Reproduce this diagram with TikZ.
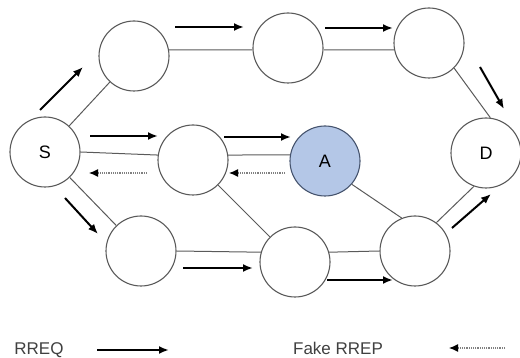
\documentclass[tikz,border=0pt]{standalone}
\usepackage{fontspec}
\setmainfont{Liberation Sans}
\usetikzlibrary{arrows.meta}

\definecolor{malblue}{RGB}{180,199,231}
\definecolor{maledge}{RGB}{70,84,110}
\definecolor{linkgray}{RGB}{90,90,90}

\begin{document}
\begin{tikzpicture}
    [
    x=1pt, y=-1pt,
    point/.style={circle,draw=linkgray,line width=1.1pt,inner sep=0pt,minimum size=70pt,
      font=\fontsize{18}{20}\selectfont},
    mal/.style={fill=malblue,draw=maledge},
    link/.style={draw=linkgray,line width=1pt},
    rreq/.style={line width=2pt,-{Latex[length=10pt,width=8pt]}},
    rrep/.style={gray,densely dotted,line width=1.2pt,-{Latex[length=9pt,width=8pt,color=black]}},
    legend/.style={text=black!75,anchor=base,inner sep=0pt,font=\fontsize{17}{20}\selectfont},
    ]
    \useasboundingbox (0,0) rectangle (520,358);

    % nodes
    \node (s) at (45,152) [point] {S};
    \node (1) at (134,56) [point] {};
    \node (2) at (288,48) [point] {};
    \node (3) at (429,43) [point] {};
    \node (d) at (486,153) [point] {D};
    \node (4) at (193,160) [point] {};
    \node (a) at (325,161) [point, mal] {A};
    \node (5) at (141,251) [point] {};
    \node (6) at (295,262) [point] {};
    \node (7) at (415,251) [point] {};

    % links
    \draw [link] (s) to (1);
    \draw [link] (1.10) to (2.183);
    \draw [link] (2.-3) to (3.191);
    \draw [link] (3.-45) to (d.83);
    \draw [link] (s.east) to (4.172);
    \draw [link] (4.8) to (a.170);
    \draw [link] (s) to (5);
    \draw [link] (4) to (6);
    \draw [link] (5.east) to (6.164);
    \draw [link] (6.16) to (7.west);
    \draw [link] (a.-41) to (7.112);
    \draw [link] (7.53) to (d.250);

    % RREQ flow
    \coordinate (q1a) at (40,110);  \coordinate (q1b) at (83,67);
    \coordinate (q2a) at (175,27);  \coordinate (q2b) at (244,27);
    \coordinate (q3a) at (325,28);  \coordinate (q3b) at (393,28);
    \coordinate (q4a) at (480,67);  \coordinate (q4b) at (504,109);
    \coordinate (q5a) at (90,136);  \coordinate (q5b) at (158,136);
    \coordinate (q6a) at (224,137); \coordinate (q6b) at (291,137);
    \coordinate (q7a) at (65,198);  \coordinate (q7b) at (98,234);
    \coordinate (q8a) at (183,268); \coordinate (q8b) at (253,268);
    \coordinate (q9a) at (327,280); \coordinate (q9b) at (393,280);
    \coordinate (q10a) at (452,228); \coordinate (q10b) at (491,194);
    \foreach \i in {1,...,10}
      \draw [rreq] (q\i a) to (q\i b);

    % fake RREP back to S
    \coordinate (p1a) at (285,173); \coordinate (p1b) at (229,173);
    \coordinate (p2a) at (147,173); \coordinate (p2b) at (89,173);
    \draw [rrep] (p1a) to (p1b);
    \draw [rrep] (p2a) to (p2b);

    % legend
    \node (lq) at (39,355) [legend] {RREQ};
    \coordinate (lqa) at (97,350); \coordinate (lqb) at (169,350);
    \draw [rreq] (lqa) to (lqb);
    \node (lp) at (338,355) [legend] {Fake RREP};
    \coordinate (lpa) at (505,348); \coordinate (lpb) at (449,348);
    \draw [rrep] (lpa) to (lpb);
  \end{tikzpicture}
\end{document}
